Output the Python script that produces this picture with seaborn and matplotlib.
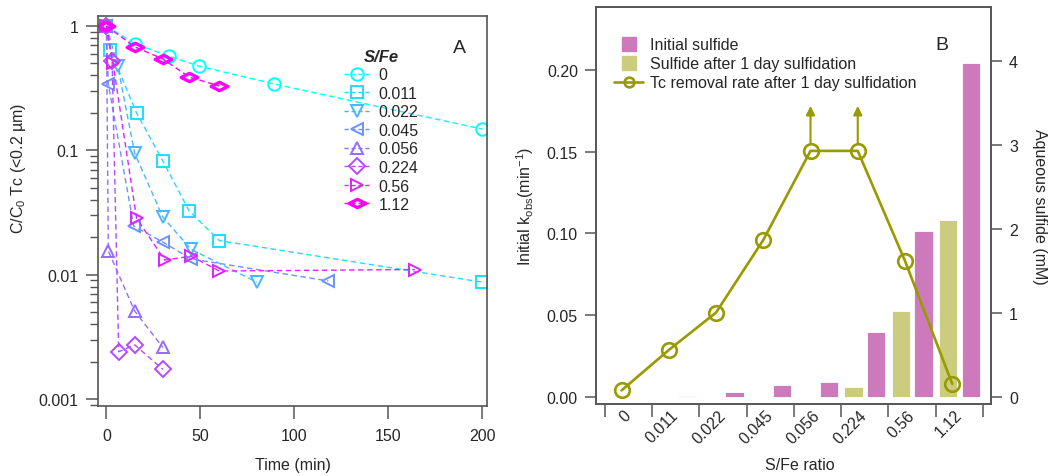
import numpy as np
import pandas as pd
import matplotlib
matplotlib.use("Agg")
import matplotlib.pyplot as plt
import seaborn as sns
from matplotlib.path import Path
from matplotlib.lines import Line2D
from matplotlib.ticker import LogLocator, NullFormatter, FixedLocator, FuncFormatter

# ---------------- Panel A data: Tc removal kinetics ----------------
sfe_labels = ["0", "0.011", "0.022", "0.045", "0.056", "0.224", "0.56", "1.12"]

t_0 = [0, 15, 33, 49, 89, 200]
c_0 = [1.0, 0.72, 0.574, 0.477, 0.342, 0.148]
t_0011 = [0, 2, 16, 30, 44, 60, 200]
c_0011 = [1.0, 0.64, 0.20, 0.082, 0.0325, 0.0188, 0.0087]
t_0022 = [0, 6, 15, 30, 45, 80]
c_0022 = [1.0, 0.477, 0.095, 0.029, 0.016, 0.0087]
t_0045 = [0, 1, 14.5, 30, 45, 118]
c_0045 = [1.0, 0.34, 0.0246, 0.0183, 0.0134, 0.0089]
t_0056 = [0, 1, 15, 30]
c_0056 = [1.0, 0.0155, 0.0051, 0.0026]
t_0224 = [0, 3, 6.5, 15, 30]
c_0224 = [1.0, 0.52, 0.0024, 0.00273, 0.00173]
t_056 = [0, 3.5, 16, 31, 45, 60, 164]
c_056 = [1.0, 0.50, 0.0285, 0.0131, 0.0141, 0.0107, 0.0110]
t_112 = [0, 15, 30, 44, 60]
c_112 = [1.0, 0.68, 0.543, 0.389, 0.329]

series_t = [t_0, t_0011, t_0022, t_0045, t_0056, t_0224, t_056, t_112]
series_c = [c_0, c_0011, c_0022, c_0045, c_0056, c_0224, c_056, c_112]

# ---------------- Panel B data ----------------
kobs = [0.004, 0.0287, 0.0516, 0.096, 0.1505, 0.1505, 0.0832, 0.008]
kobs_lower_bound = [False, False, False, False, True, True, False, False]
sulfide_initial = [0.0, 0.015, 0.056, 0.14, 0.175, 0.78, 1.98, 3.98]
sulfide_1day = [0.0, 0.0, 0.0, 0.0, 0.0, 0.115, 1.02, 2.11]

# ---------------- style ----------------
colors_A = ["#00FFFF", "#24DBFF", "#49B6FF", "#6D92FF",
            "#926DFF", "#B649FF", "#DB24FF", "#FF00FF"]
wide_diamond = Path([(-1, 0), (0, 0.5), (1, 0), (0, -0.5), (-1, 0)],
                    [Path.MOVETO, Path.LINETO, Path.LINETO, Path.LINETO, Path.CLOSEPOLY])
markers_A = ["o", "s", "v", "<", "^", "D", ">", wide_diamond]
msizes_A = [9, 9, 9, 9, 9, 8, 9, 12]
mew_A = [1.4, 1.4, 1.4, 1.4, 1.4, 1.4, 1.4, 2.4]

line_col = "#999900"
pink = "#CC7ABB"
olive = "#CCCC80"
spine_col = "#555555"

sns.set_theme(style="ticks")
plt.rcParams["font.family"] = ["Liberation Sans", "DejaVu Sans"]
plt.rcParams["mathtext.default"] = "regular"
FS = 11.5

fig = plt.figure(figsize=(10.59, 4.77), dpi=100)
W, H = 1059.0, 477.0
axA = fig.add_axes([98 / W, 1 - 407 / H, (487 - 98) / W, (407 - 17) / H])
axB = fig.add_axes([596 / W, 1 - 405 / H, (991 - 596) / W, (405 - 8) / H])
axB2 = axB.twinx()

# ---------------- Panel A ----------------
dash = (0, (4, 2.5))
for t, c, col, mk, ms, mw in zip(series_t, series_c, colors_A, markers_A, msizes_A, mew_A):
    sns.lineplot(x=t, y=c, ax=axA, color=col, marker=mk, markersize=ms,
                 markerfacecolor="none", markeredgecolor=col, markeredgewidth=mw,
                 linewidth=1.0, linestyle=dash, sort=False, errorbar=None)

axA.set_yscale("log")
axA.set_xlim(-4.5, 202.4)
axA.set_ylim(0.000879, 1.203)
axA.yaxis.set_major_locator(FixedLocator([0.001, 0.01, 0.1, 1]))
axA.yaxis.set_major_formatter(FuncFormatter(lambda v, p: {0.001: "0.001", 0.01: "0.01", 0.1: "0.1", 1: "1"}.get(round(v, 3), "")))
axA.yaxis.set_minor_locator(LogLocator(base=10, subs=np.arange(2, 10)))
axA.yaxis.set_minor_formatter(NullFormatter())
axA.set_xticks([0, 50, 100, 150, 200])
axA.tick_params(axis="both", which="major", direction="out", length=9, width=1.1,
                color=spine_col, labelsize=FS, pad=5)
axA.tick_params(axis="x", which="major", pad=7)
axA.tick_params(axis="y", which="minor", direction="out", length=6, width=1.0, color=spine_col)
axA.set_xlabel("Time (min)", fontsize=FS)
axA.set_ylabel("C/C$_0$ Tc (<0.2 µm)", fontsize=FS)
axA.yaxis.set_label_coords(-0.18, 0.613)
axA.xaxis.set_label_coords(0.5, -0.131)
for s in axA.spines.values():
    s.set_color(spine_col)
    s.set_linewidth(1.2)

handlesA = [Line2D([0], [0], color=col, marker=mk, markersize=ms, markerfacecolor="none",
                   markeredgecolor=col, markeredgewidth=mw, linewidth=1.0, linestyle=(0, (3, 2)))
            for col, mk, ms, mw in zip(colors_A, markers_A, msizes_A, mew_A)]
legA = axA.legend(handlesA, sfe_labels, title="S/Fe", frameon=False, loc="upper left",
                  bbox_to_anchor=(0.615, 0.932), fontsize=FS, title_fontsize=12,
                  handlelength=1.7, handletextpad=0.5, labelspacing=0.22, borderaxespad=0)
legA.get_title().set_fontweight("bold")
legA.get_title().set_fontstyle("italic")
axA.text(0.93, 0.92, "A", transform=axA.transAxes, fontsize=14, ha="center", va="center")

# ---------------- Panel B ----------------
pos = np.arange(len(sfe_labels))
df_bar = pd.DataFrame({
    "pos": list(pos) * 2,
    "series": ["Initial sulfide"] * len(pos) + ["Sulfide after 1 day sulfidation"] * len(pos),
    "mM": sulfide_initial + sulfide_1day,
})
sns.barplot(data=df_bar, x="pos", y="mM", hue="series",
            hue_order=["Sulfide after 1 day sulfidation", "Initial sulfide"],
            palette=[olive, pink], native_scale=True, width=0.96, gap=0.2,
            errorbar=None, saturation=1, legend=False, ax=axB2,
            edgecolor="white", linewidth=0.6)

line_x = pos - 0.15
sns.lineplot(x=line_x, y=kobs, ax=axB, color=line_col, marker="o", markersize=10.5,
             markerfacecolor="none", markeredgecolor=line_col, markeredgewidth=1.9,
             linewidth=1.9, sort=False, errorbar=None)
arrow_len = 0.023
for xi, k, lb in zip(line_x, kobs, kobs_lower_bound):
    if lb:
        axB.annotate("", xy=(xi, k + 0.0045 + arrow_len), xytext=(xi, k + 0.0045),
                     arrowprops=dict(arrowstyle="-|>", color=line_col, lw=1.5,
                                     mutation_scale=13, shrinkA=0, shrinkB=0))

axB.set_zorder(axB2.get_zorder() + 1)
axB.patch.set_visible(False)

axB.set_xlim(-0.69, 7.67)
axB.set_ylim(-0.0043, 0.2385)
axB2.set_ylim(-0.083, 4.643)
axB.set_yticks([0.0, 0.05, 0.10, 0.15, 0.20])
axB.yaxis.set_major_formatter(FuncFormatter(lambda v, p: f"{v:.2f}"))
axB2.set_yticks([0, 1, 2, 3, 4])
axB2.yaxis.set_major_formatter(FuncFormatter(lambda v, p: f"{v:.0f}"))

axB.set_xticks(np.arange(-0.5, 8, 1))
axB.set_xticklabels([])
axB.set_xticks(pos, minor=True)
axB.set_xticklabels(sfe_labels, minor=True, rotation=45, ha="right", va="center",
                    rotation_mode="anchor", fontsize=FS)
axB.tick_params(axis="x", which="major", direction="out", length=9.5, width=1.1, color=spine_col)
axB.tick_params(axis="x", which="minor", length=0, pad=6)
axB.tick_params(axis="y", direction="out", length=8, width=1.1, color=spine_col,
                labelsize=FS, pad=5)
axB2.tick_params(axis="y", direction="out", length=8, width=1.1, color=spine_col,
                 labelsize=FS, pad=5)
axB2.set_xlim(-0.69, 7.67)
axB2.set_xlabel("")
axB2.tick_params(axis="x", which="both", bottom=False, top=False, labelbottom=False)

axB.set_xlabel("S/Fe ratio", fontsize=FS)
axB.xaxis.set_label_coords(0.516, -0.1335)
axB.set_ylabel("Initial k$_{obs}$(min$^{-1}$)", fontsize=FS)
axB.yaxis.set_label_coords(-0.152, 0.5)
axB2.set_ylabel("Aqueous sulfide (mM)", fontsize=FS, rotation=270, va="center")
axB2.yaxis.set_label_coords(1.124, 0.5)
for a in (axB, axB2):
    for s in a.spines.values():
        s.set_color(spine_col)
        s.set_linewidth(1.2)

handlesB = [
    Line2D([0], [0], marker="s", linestyle="none", color=pink, markersize=10),
    Line2D([0], [0], marker="s", linestyle="none", color=olive, markersize=10),
    Line2D([0], [0], color=line_col, linewidth=1.9, marker="o", markersize=7,
           markerfacecolor="none", markeredgecolor=line_col, markeredgewidth=1.9),
]
axB.legend(handlesB, ["Initial sulfide", "Sulfide after 1 day sulfidation",
                      "Tc removal rate after 1 day sulfidation"],
           frameon=False, loc="upper left", bbox_to_anchor=(0.03, 0.94), fontsize=FS,
           handlelength=1.8, handletextpad=0.45, labelspacing=0.25, borderaxespad=0)
axB.text(0.875, 0.905, "B", transform=axB.transAxes, fontsize=14, ha="center", va="center")

fig.savefig("out.png", dpi=100)
